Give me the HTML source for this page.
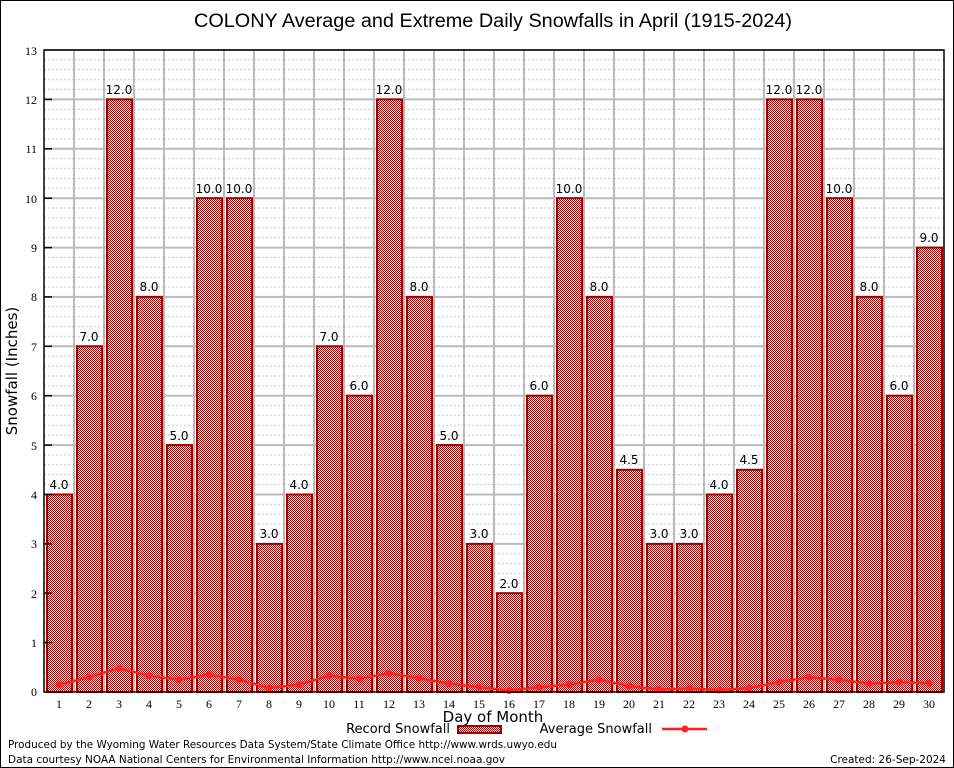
<!DOCTYPE html>
<html><head><meta charset="utf-8"><style>
body{margin:0;background:#fff}
svg{display:block;font-family:"DejaVu Sans","Liberation Sans",sans-serif}
.t{font-family:"Liberation Serif",serif;font-size:12px}
</style></head><body>
<svg width="954" height="768" viewBox="0 0 954 768">
<defs>
<pattern id="hatch" width="2" height="2" patternUnits="userSpaceOnUse">
<rect width="2" height="2" fill="#fff"/><rect width="1" height="1" fill="#a00000"/><rect x="1" y="1" width="1" height="1" fill="#a00000"/>
</pattern>
<pattern id="minor" x="44" y="692" width="30" height="49.385" patternUnits="userSpaceOnUse">
<g stroke="#c8c8c8" stroke-width="1" stroke-dasharray="2,2">
<line x1="0" x2="30" y1="9.877" y2="9.877"/><line x1="0" x2="30" y1="19.754" y2="19.754"/><line x1="0" x2="30" y1="29.631" y2="29.631"/><line x1="0" x2="30" y1="39.508" y2="39.508"/>
</g>
</pattern>
</defs>
<rect x="0.5" y="0.5" width="953" height="767" fill="#fff" stroke="#000"/>
<text x="493" y="27" text-anchor="middle" font-family="Liberation Sans,sans-serif" font-size="19" textLength="598" lengthAdjust="spacingAndGlyphs">COLONY Average and Extreme Daily Snowfalls in April (1915-2024)</text>
<rect x="44" y="50" width="900" height="642" fill="url(#minor)"/>
<g stroke="#bbb" stroke-width="2">
<line x1="44" x2="944" y1="50" y2="50"/><line x1="44" x2="944" y1="99.4" y2="99.4"/><line x1="44" x2="944" y1="148.8" y2="148.8"/><line x1="44" x2="944" y1="198.2" y2="198.2"/><line x1="44" x2="944" y1="247.6" y2="247.6"/><line x1="44" x2="944" y1="296.9" y2="296.9"/><line x1="44" x2="944" y1="346.3" y2="346.3"/><line x1="44" x2="944" y1="395.7" y2="395.7"/><line x1="44" x2="944" y1="445.1" y2="445.1"/><line x1="44" x2="944" y1="494.5" y2="494.5"/><line x1="44" x2="944" y1="543.9" y2="543.9"/><line x1="44" x2="944" y1="593.2" y2="593.2"/><line x1="44" x2="944" y1="642.6" y2="642.6"/>
</g>
<g stroke="#bbb" stroke-width="2">
<line x1="74" x2="74" y1="50" y2="692"/><line x1="104" x2="104" y1="50" y2="692"/><line x1="134" x2="134" y1="50" y2="692"/><line x1="164" x2="164" y1="50" y2="692"/><line x1="194" x2="194" y1="50" y2="692"/><line x1="224" x2="224" y1="50" y2="692"/><line x1="254" x2="254" y1="50" y2="692"/><line x1="284" x2="284" y1="50" y2="692"/><line x1="314" x2="314" y1="50" y2="692"/><line x1="344" x2="344" y1="50" y2="692"/><line x1="374" x2="374" y1="50" y2="692"/><line x1="404" x2="404" y1="50" y2="692"/><line x1="434" x2="434" y1="50" y2="692"/><line x1="464" x2="464" y1="50" y2="692"/><line x1="494" x2="494" y1="50" y2="692"/><line x1="524" x2="524" y1="50" y2="692"/><line x1="554" x2="554" y1="50" y2="692"/><line x1="584" x2="584" y1="50" y2="692"/><line x1="614" x2="614" y1="50" y2="692"/><line x1="644" x2="644" y1="50" y2="692"/><line x1="674" x2="674" y1="50" y2="692"/><line x1="704" x2="704" y1="50" y2="692"/><line x1="734" x2="734" y1="50" y2="692"/><line x1="764" x2="764" y1="50" y2="692"/><line x1="794" x2="794" y1="50" y2="692"/><line x1="824" x2="824" y1="50" y2="692"/><line x1="854" x2="854" y1="50" y2="692"/><line x1="884" x2="884" y1="50" y2="692"/><line x1="914" x2="914" y1="50" y2="692"/>
</g>
<g fill="url(#hatch)" stroke="#a00000" stroke-width="2">
<rect x="47" y="494.5" width="25" height="197.5"/><rect x="77" y="346.3" width="25" height="345.7"/><rect x="107" y="99.4" width="25" height="592.6"/><rect x="137" y="296.9" width="25" height="395.1"/><rect x="167" y="445.1" width="25" height="246.9"/><rect x="197" y="198.2" width="25" height="493.8"/><rect x="227" y="198.2" width="25" height="493.8"/><rect x="257" y="543.9" width="25" height="148.1"/><rect x="287" y="494.5" width="25" height="197.5"/><rect x="317" y="346.3" width="25" height="345.7"/><rect x="347" y="395.7" width="25" height="296.3"/><rect x="377" y="99.4" width="25" height="592.6"/><rect x="407" y="296.9" width="25" height="395.1"/><rect x="437" y="445.1" width="25" height="246.9"/><rect x="467" y="543.9" width="25" height="148.1"/><rect x="497" y="593.2" width="25" height="98.8"/><rect x="527" y="395.7" width="25" height="296.3"/><rect x="557" y="198.2" width="25" height="493.8"/><rect x="587" y="296.9" width="25" height="395.1"/><rect x="617" y="469.8" width="25" height="222.2"/><rect x="647" y="543.9" width="25" height="148.1"/><rect x="677" y="543.9" width="25" height="148.1"/><rect x="707" y="494.5" width="25" height="197.5"/><rect x="737" y="469.8" width="25" height="222.2"/><rect x="767" y="99.4" width="25" height="592.6"/><rect x="797" y="99.4" width="25" height="592.6"/><rect x="827" y="198.2" width="25" height="493.8"/><rect x="857" y="296.9" width="25" height="395.1"/><rect x="887" y="395.7" width="25" height="296.3"/><rect x="917" y="247.6" width="25" height="444.4"/>
</g>
<g font-size="12" text-anchor="middle">
<text x="59" y="489">4.0</text><text x="89" y="341">7.0</text><text x="119" y="94">12.0</text><text x="149" y="291">8.0</text><text x="179" y="440">5.0</text><text x="209" y="193">10.0</text><text x="239" y="193">10.0</text><text x="269" y="538">3.0</text><text x="299" y="489">4.0</text><text x="329" y="341">7.0</text><text x="359" y="390">6.0</text><text x="389" y="94">12.0</text><text x="419" y="291">8.0</text><text x="449" y="440">5.0</text><text x="479" y="538">3.0</text><text x="509" y="588">2.0</text><text x="539" y="390">6.0</text><text x="569" y="193">10.0</text><text x="599" y="291">8.0</text><text x="629" y="464">4.5</text><text x="659" y="538">3.0</text><text x="689" y="538">3.0</text><text x="719" y="489">4.0</text><text x="749" y="464">4.5</text><text x="779" y="94">12.0</text><text x="809" y="94">12.0</text><text x="839" y="193">10.0</text><text x="869" y="291">8.0</text><text x="899" y="390">6.0</text><text x="929" y="242">9.0</text>
</g>
<polyline fill="none" stroke="#ff2020" stroke-width="2.5" points="59,684.6 89,677.2 119,668.3 149,675.7 179,679.7 209,674.7 239,679.7 269,688 299,684.6 329,675.7 359,678.7 389,673.2 419,678.2 449,683.6 479,687.1 509,690.5 539,687.1 569,684.6 599,679.7 629,686.1 659,689.5 689,688.5 719,690 749,688 779,682.1 809,677.2 839,679.7 869,683.6 899,682.1 929,683.1"/>
<g fill="#ff2020">
<circle cx="59" cy="684.6" r="3.5"/><circle cx="89" cy="677.2" r="3.5"/><circle cx="119" cy="668.3" r="3.5"/><circle cx="149" cy="675.7" r="3.5"/><circle cx="179" cy="679.7" r="3.5"/><circle cx="209" cy="674.7" r="3.5"/><circle cx="239" cy="679.7" r="3.5"/><circle cx="269" cy="688" r="3.5"/><circle cx="299" cy="684.6" r="3.5"/><circle cx="329" cy="675.7" r="3.5"/><circle cx="359" cy="678.7" r="3.5"/><circle cx="389" cy="673.2" r="3.5"/><circle cx="419" cy="678.2" r="3.5"/><circle cx="449" cy="683.6" r="3.5"/><circle cx="479" cy="687.1" r="3.5"/><circle cx="509" cy="690.5" r="3.5"/><circle cx="539" cy="687.1" r="3.5"/><circle cx="569" cy="684.6" r="3.5"/><circle cx="599" cy="679.7" r="3.5"/><circle cx="629" cy="686.1" r="3.5"/><circle cx="659" cy="689.5" r="3.5"/><circle cx="689" cy="688.5" r="3.5"/><circle cx="719" cy="690" r="3.5"/><circle cx="749" cy="688" r="3.5"/><circle cx="779" cy="682.1" r="3.5"/><circle cx="809" cy="677.2" r="3.5"/><circle cx="839" cy="679.7" r="3.5"/><circle cx="869" cy="683.6" r="3.5"/><circle cx="899" cy="682.1" r="3.5"/><circle cx="929" cy="683.1" r="3.5"/>
</g>
<rect x="44" y="50" width="900" height="642" fill="none" stroke="#000" stroke-width="1.5"/>
<g stroke="#000" stroke-width="1.5">
<line x1="44" x2="52" y1="99.4" y2="99.4"/><line x1="44" x2="52" y1="148.8" y2="148.8"/><line x1="44" x2="52" y1="198.2" y2="198.2"/><line x1="44" x2="52" y1="247.6" y2="247.6"/><line x1="44" x2="52" y1="296.9" y2="296.9"/><line x1="44" x2="52" y1="346.3" y2="346.3"/><line x1="44" x2="52" y1="395.7" y2="395.7"/><line x1="44" x2="52" y1="445.1" y2="445.1"/><line x1="44" x2="52" y1="494.5" y2="494.5"/><line x1="44" x2="52" y1="543.9" y2="543.9"/><line x1="44" x2="52" y1="593.2" y2="593.2"/><line x1="44" x2="52" y1="642.6" y2="642.6"/>
</g>
<g class="t" text-anchor="end">
<text x="37" y="55">13</text><text x="37" y="104">12</text><text x="37" y="153">11</text><text x="37" y="203">10</text><text x="37" y="252">9</text><text x="37" y="301">8</text><text x="37" y="351">7</text><text x="37" y="400">6</text><text x="37" y="450">5</text><text x="37" y="499">4</text><text x="37" y="548">3</text><text x="37" y="598">2</text><text x="37" y="647">1</text><text x="37" y="696">0</text>
</g>
<g class="t" text-anchor="middle">
<text x="59" y="708">1</text><text x="89" y="708">2</text><text x="119" y="708">3</text><text x="149" y="708">4</text><text x="179" y="708">5</text><text x="209" y="708">6</text><text x="239" y="708">7</text><text x="269" y="708">8</text><text x="299" y="708">9</text><text x="329" y="708">10</text><text x="359" y="708">11</text><text x="389" y="708">12</text><text x="419" y="708">13</text><text x="449" y="708">14</text><text x="479" y="708">15</text><text x="509" y="708">16</text><text x="539" y="708">17</text><text x="569" y="708">18</text><text x="599" y="708">19</text><text x="629" y="708">20</text><text x="659" y="708">21</text><text x="689" y="708">22</text><text x="719" y="708">23</text><text x="749" y="708">24</text><text x="779" y="708">25</text><text x="809" y="708">26</text><text x="839" y="708">27</text><text x="869" y="708">28</text><text x="899" y="708">29</text><text x="929" y="708">30</text>
</g>
<text x="493" y="722" text-anchor="middle" font-size="15">Day of Month</text>
<text transform="translate(17,371) rotate(-90)" text-anchor="middle" font-size="15">Snowfall (Inches)</text>
<text x="450" y="733" text-anchor="end" font-size="13">Record Snowfall</text>
<rect x="458" y="726" width="43" height="7" fill="url(#hatch)" stroke="#a00000" stroke-width="2"/>
<text x="652" y="733" text-anchor="end" font-size="13">Average Snowfall</text>
<line x1="662" y1="729" x2="707" y2="729" stroke="#ff2020" stroke-width="2.5"/>
<circle cx="685" cy="729" r="3.5" fill="#ff2020"/>
<text x="8" y="748" font-size="10.5" textLength="549" lengthAdjust="spacingAndGlyphs">Produced by the Wyoming Water Resources Data System/State Climate Office http://www.wrds.uwyo.edu</text>
<text x="8" y="763" font-size="10.5" textLength="497" lengthAdjust="spacingAndGlyphs">Data courtesy NOAA National Centers for Environmental Information http://www.ncei.noaa.gov</text>
<text x="946" y="763" text-anchor="end" font-size="10.5">Created: 26-Sep-2024</text>
</svg>
</body></html>
